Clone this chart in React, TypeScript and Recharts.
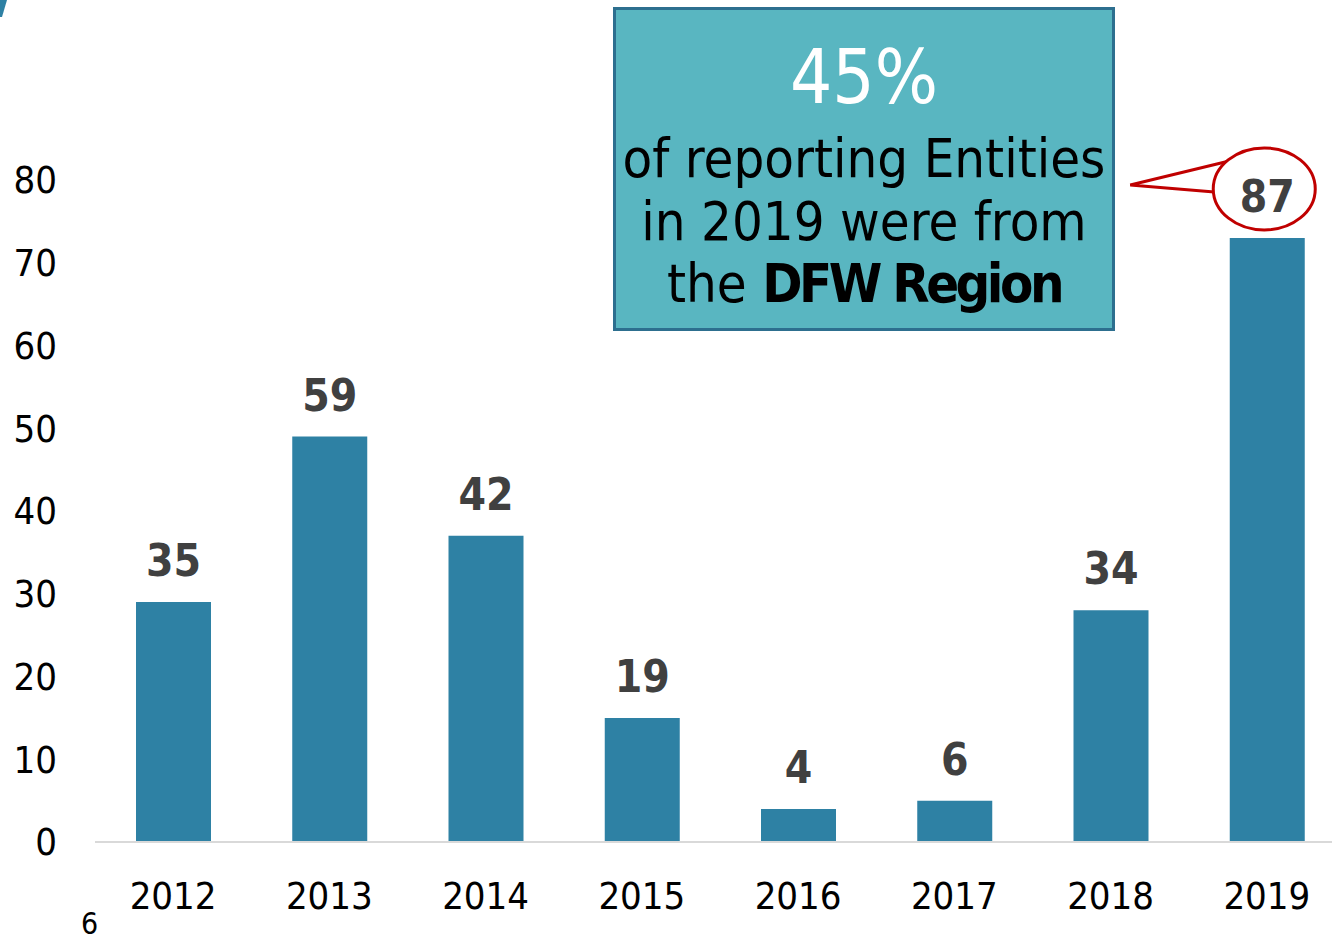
import { Bar, BarChart, LabelList, XAxis, YAxis } from 'recharts'

const years = ['2012', '2013', '2014', '2015', '2016', '2017', '2018', '2019']
// bar heights as drawn against the axis
const barValues = [29, 49, 37, 15, 4, 5, 28, 73]
// numbers printed above the bars
const labelValues = [35, 59, 42, 19, 4, 6, 34, 87]
const yTicks = [0, 10, 20, 30, 40, 50, 60, 70, 80]

const FONT = "'DejaVu Sans Condensed', 'DejaVu Sans', sans-serif"
const BAR = '#2E81A4'
const RED = '#C00000'

const data = years.map((year, i) => ({ year, value: barValues[i], label: labelValues[i] }))

function TopLabel(props: any) {
  const { x, y, width, value, index } = props
  const cx = x + width / 2
  const by = y - 26
  const last = index === data.length - 1
  return (
    <g>
      {last && (
        <g>
          <path
            d={`M ${cx - 38} ${by - 51} L ${cx - 137} ${by - 27} L ${cx - 53} ${by - 20}`}
            fill="#fff"
            stroke={RED}
            strokeWidth={3}
          />
          <ellipse cx={cx - 3} cy={by - 23} rx={51} ry={41} fill="#fff" stroke={RED} strokeWidth={3} />
        </g>
      )}
      <text
        x={cx}
        y={by}
        textAnchor="middle"
        fill="#404040"
        fontSize={44}
        fontWeight={700}
        fontFamily={FONT}
      >
        {value}
      </text>
    </g>
  )
}

export default function App() {
  const line = { position: 'absolute' as const, left: 0, width: '100%', textAlign: 'center' as const, lineHeight: 1, whiteSpace: 'nowrap' as const }
  return (
    <div style={{ position: 'fixed', left: 0, top: 0, width: 1332, height: 944, overflow: 'hidden', background: '#fff', fontFamily: FONT }}>
      <BarChart
        width={1345}
        height={944}
        data={data}
        barSize={75}
        margin={{ top: 180, right: 0, bottom: 0, left: 0 }}
      >
        <XAxis
          dataKey="year"
          height={102}
          tickLine={false}
          tickSize={0}
          tickMargin={40}
          axisLine={{ stroke: '#D9D9D9', strokeWidth: 2 }}
          tick={{ fill: '#000', fontSize: 38, fontFamily: FONT }}
        />
        <YAxis
          width={95}
          domain={[0, 80]}
          ticks={yTicks}
          interval={0}
          axisLine={false}
          tickLine={false}
          tickSize={0}
          tickMargin={38}
          tick={{ fill: '#000', fontSize: 38, fontFamily: FONT }}
        />
        <Bar dataKey="value" fill={BAR} isAnimationActive={false}>
          <LabelList dataKey="label" content={<TopLabel />} />
        </Bar>
      </BarChart>

      {/* callout box */}
      <div
        style={{
          position: 'absolute',
          left: 613,
          top: 7,
          width: 496,
          height: 318,
          background: '#59B6C1',
          border: '3px solid #2D6F8F',
        }}
      >
        <div style={{ ...line, top: 30, fontSize: 74, color: '#fff' }}>45%</div>
        <div style={{ ...line, top: 122, fontSize: 54, color: '#000' }}>of reporting Entities</div>
        <div style={{ ...line, top: 185, fontSize: 54, color: '#000' }}>in 2019 were from</div>
        <div style={{ ...line, top: 247, fontSize: 54, color: '#000' }}>
          the <b style={{ letterSpacing: -3.5 }}>DFW Region</b>
        </div>
      </div>

      {/* slide corner mark and page number */}
      <svg style={{ position: 'absolute', left: 0, top: 0 }} width={20} height={20}>
        <path d="M 0 0 L 7 0 L 2 17 L 0 17 Z" fill={BAR} />
      </svg>
      <div style={{ position: 'absolute', left: 81, top: 908, fontSize: 30, lineHeight: '32px', color: '#000' }}>6</div>
    </div>
  )
}
